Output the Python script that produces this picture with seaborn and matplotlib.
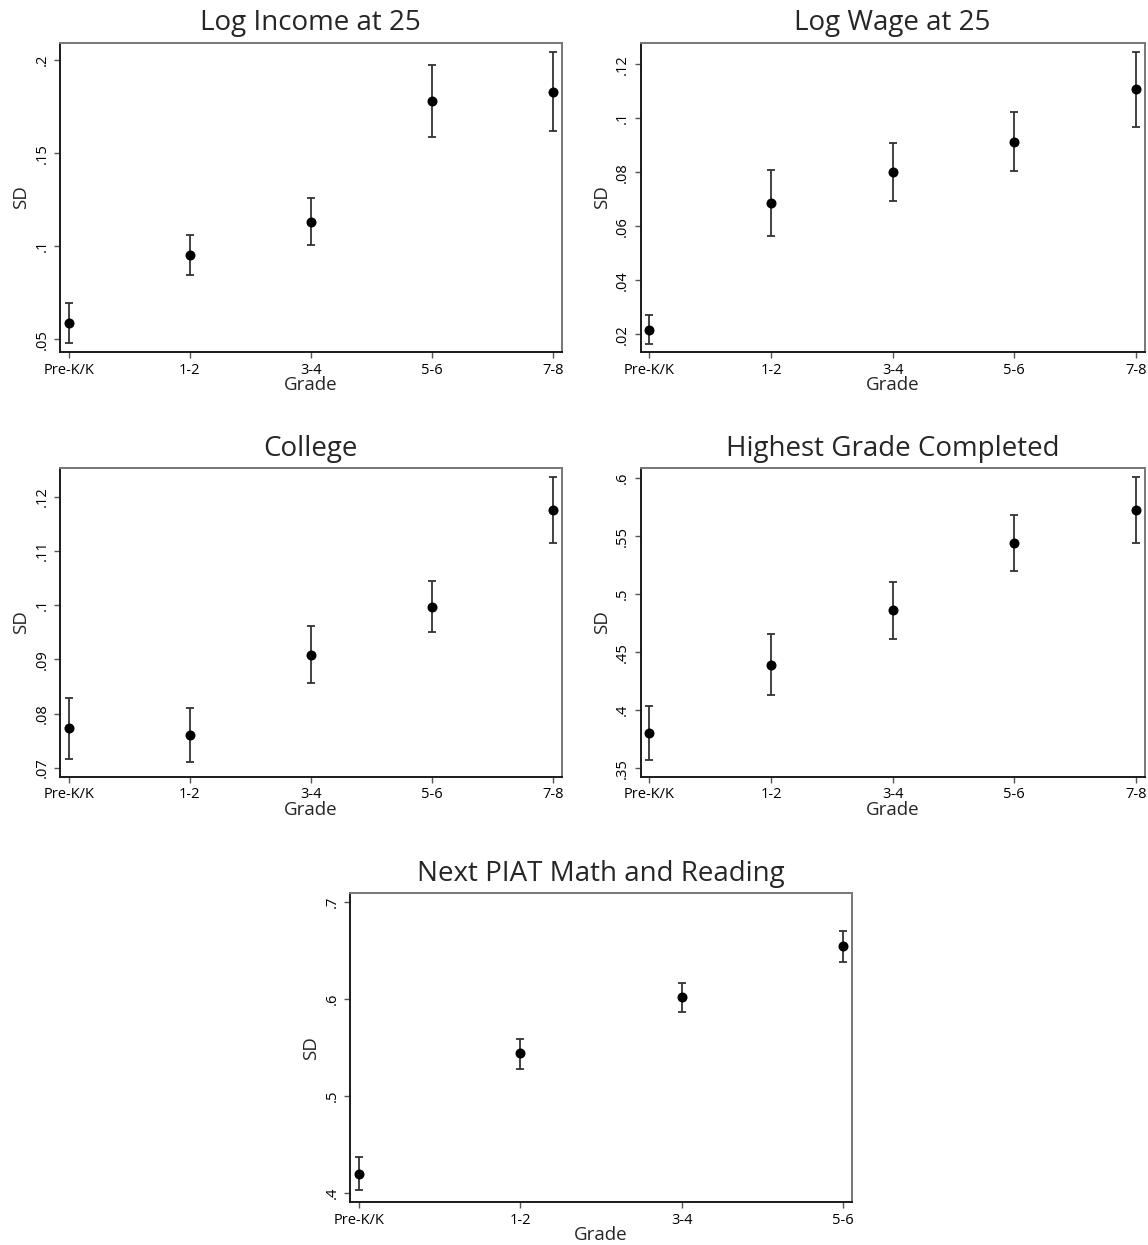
import numpy as np
import pandas as pd
import matplotlib
matplotlib.use("Agg")
import matplotlib.pyplot as plt
from matplotlib.ticker import FuncFormatter
import seaborn as sns

# ---------------- data ----------------
grades5 = ["Pre-K/K", "1-2", "3-4", "5-6", "7-8"]
grades4 = ["Pre-K/K", "1-2", "3-4", "5-6"]

income_sd = [0.0586, 0.0952, 0.1132, 0.1782, 0.1830]
income_lo = [0.0479, 0.0845, 0.1005, 0.1589, 0.1620]
income_hi = [0.0696, 0.1059, 0.1259, 0.1975, 0.2041]

wage_sd = [0.0217, 0.0685, 0.0801, 0.0913, 0.1107]
wage_lo = [0.0165, 0.0563, 0.0694, 0.0805, 0.0967]
wage_hi = [0.0271, 0.0808, 0.0909, 0.1022, 0.1247]

college_sd = [0.0773, 0.0761, 0.0909, 0.0997, 0.1175]
college_lo = [0.0717, 0.0711, 0.0856, 0.0950, 0.1115]
college_hi = [0.0830, 0.0811, 0.0962, 0.1045, 0.1236]

hgc_sd = [0.3799, 0.4392, 0.4864, 0.5439, 0.5727]
hgc_lo = [0.3569, 0.4130, 0.4616, 0.5200, 0.5442]
hgc_hi = [0.4032, 0.4657, 0.5108, 0.5681, 0.6011]

piat_sd = [0.4203, 0.5440, 0.6019, 0.6542]
piat_lo = [0.4034, 0.5285, 0.5867, 0.6380]
piat_hi = [0.4375, 0.5591, 0.6170, 0.6700]

income_ticks = [0.05, 0.10, 0.15, 0.20]
wage_ticks = [0.02, 0.04, 0.06, 0.08, 0.10, 0.12]
college_ticks = [0.07, 0.08, 0.09, 0.10, 0.11, 0.12]
hgc_ticks = [0.35, 0.40, 0.45, 0.50, 0.55, 0.60]
piat_ticks = [0.4, 0.5, 0.6, 0.7]

titles = ["Log Income at 25", "Log Wage at 25", "College",
          "Highest Grade Completed", "Next PIAT Math and Reading"]

# ---------------- style ----------------
sns.set_theme(style="white")
plt.rcParams["font.family"] = ["Open Sans", "DejaVu Sans"]

W, H = 1148, 1245
fig = plt.figure(figsize=(W / 100, H / 100), dpi=100)

def frac(left, top, right, bottom):
    return [left / W, 1 - bottom / H, (right - left) / W, (bottom - top) / H]

panels = [
    (titles[0], grades5, income_sd, income_lo, income_hi, income_ticks,
     frac(60, 42.7, 561.7, 352.3), (0.0430, 0.2093)),
    (titles[1], grades5, wage_sd, wage_lo, wage_hi, wage_ticks,
     frac(640.7, 42.7, 1144.5, 352.3), (0.0133, 0.1280)),
    (titles[2], grades5, college_sd, college_lo, college_hi, college_ticks,
     frac(60, 468.3, 561.7, 776.8), (0.0684, 0.1252)),
    (titles[3], grades5, hgc_sd, hgc_lo, hgc_hi, hgc_ticks,
     frac(640.7, 468.3, 1144.5, 776.8), (0.3425, 0.6086)),
    (titles[4], grades4, piat_sd, piat_lo, piat_hi, piat_ticks,
     frac(350, 893.3, 852.3, 1202.3), (0.3907, 0.7090)),
]

def stata_fmt(v, pos):
    s = f"{v:.2f}".rstrip("0").rstrip(".")
    if s.startswith("0."):
        s = s[1:]
    return s

for title, grades, sd, lo, hi, ticks, rect, ylim in panels:
    ax = fig.add_axes(rect)
    n = len(grades)
    df = pd.DataFrame({"pos": np.arange(n), "grade": grades,
                       "sd": sd, "lo": lo, "hi": hi})
    ax.errorbar(df["pos"], df["sd"],
                yerr=[df["sd"] - df["lo"], df["hi"] - df["sd"]],
                fmt="none", ecolor="#333333", elinewidth=1.3,
                capsize=3.0, capthick=1.3, zorder=2)
    sns.scatterplot(data=df, x="pos", y="sd", ax=ax, color="black",
                    s=52, edgecolor="black", linewidth=0, zorder=3)
    margin = 0.0719 if n == 5 else 0.0557
    ax.set_xlim(-margin, n - 1 + margin)
    ax.set_ylim(*ylim)
    ax.set_xticks(np.arange(n))
    ax.set_xticklabels(grades)
    ax.set_yticks(ticks)
    ax.yaxis.set_major_formatter(FuncFormatter(stata_fmt))
    for lab in ax.get_yticklabels():
        lab.set_rotation(90)
        lab.set_va("center")
    ax.tick_params(axis="both", which="major", length=4.5, width=1.0,
                   color="#555555", labelsize=10.5, labelcolor="black",
                   direction="out", pad=3, left=True, bottom=True)
    ax.set_xlabel("Grade", fontsize=13.5, labelpad=-1)
    ax.set_ylabel("SD", fontsize=13.5, labelpad=3)
    ax.set_title(title, fontsize=20, pad=9)
    for side in ["left", "bottom"]:
        ax.spines[side].set_color("#1a1a1a")
        ax.spines[side].set_linewidth(1.4)
    for side in ["top", "right"]:
        ax.spines[side].set_color("#777777")
        ax.spines[side].set_linewidth(1.4)
    ax.grid(False)

fig.savefig("out.png", dpi=100, facecolor="white")
